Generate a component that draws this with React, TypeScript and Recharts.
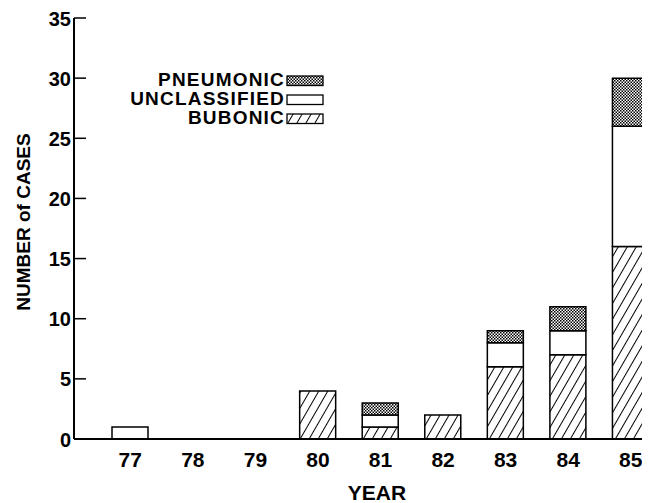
import React from "react";
import { BarChart, Bar, XAxis, YAxis, Legend } from "recharts";

const years = ["77", "78", "79", "80", "81", "82", "83", "84", "85"];
const bubonic = [null, null, null, 4, 1, 2, 6, 7, 16];
const unclassified = [1, null, null, null, 1, null, 2, 2, 10];
const pneumonic = [null, null, null, null, 1, null, 1, 2, 4];
const yTicks = [0, 5, 10, 15, 20, 25, 30, 35];

const legendItems = [
  { label: "PNEUMONIC", fill: "url(#stipple)" },
  { label: "UNCLASSIFIED", fill: "#fff" },
  { label: "BUBONIC", fill: "url(#hatch)" },
];

const data = years.map((year, i) => ({
  year,
  bubonic: bubonic[i],
  unclassified: unclassified[i],
  pneumonic: pneumonic[i],
}));

const FONT = '"Liberation Sans", Arial, Helvetica, sans-serif';

function YTick(props: any) {
  const { x, y, payload } = props;
  return (
    <g>
      <line x1={x + 3} x2={x + 15} y1={y} y2={y} stroke="#000" strokeWidth={1.5} />
      <text x={x} y={y + 7.5} textAnchor="end" fontSize={20} fontWeight="bold" fontFamily={FONT} fill="#000">
        {payload.value}
      </text>
    </g>
  );
}

function XTick(props: any) {
  const { x, y, payload } = props;
  return (
    <text x={x} y={y + 28} textAnchor="middle" fontSize={21} fontWeight="bold" fontFamily={FONT} fill="#000">
      {payload.value}
    </text>
  );
}

function LegendBox() {
  return (
    <svg width={200} height={60} style={{ display: "block", overflow: "visible" }}>
      {legendItems.map((item, i) => {
        const base = 17.5 + i * 19;
        return (
          <g key={item.label}>
            <text
              x={137}
              y={base}
              textAnchor="end"
              fontSize={19}
              fontWeight="bold"
              letterSpacing={1.2}
              fontFamily={FONT}
              fill="#000"
            >
              {item.label}
            </text>
            <rect x={139} y={base - 9.5} width={36} height={9.5} fill={item.fill} stroke="#000" strokeWidth={1.3} />
          </g>
        );
      })}
    </svg>
  );
}

export default function App() {
  return (
    <div style={{ width: 642, height: 495, overflow: "hidden", background: "#fff" }}>
      <BarChart
        width={680}
        height={495}
        data={data}
        margin={{ top: 10, right: 26, bottom: 24, left: 0 }}
        barSize={36}
      >
        <defs>
          <pattern id="hatch" patternUnits="userSpaceOnUse" width={7.8} height={7.8} patternTransform="rotate(30)">
            <rect width={7.8} height={7.8} fill="#fff" />
            <line x1={0} y1={0} x2={0} y2={7.8} stroke="#000" strokeWidth={2} />
          </pattern>
          <pattern id="stipple" patternUnits="userSpaceOnUse" width={3} height={3}>
            <rect width={3} height={3} fill="#fff" />
            <rect x={0} y={0} width={1.5} height={1.5} fill="#000" />
            <rect x={1.5} y={1.5} width={1.5} height={1.5} fill="#000" />
          </pattern>
        </defs>
        <XAxis
          dataKey="year"
          height={40}
          padding={{ left: 25, right: 0 }}
          tickSize={0}
          tickMargin={0}
          tickLine={false}
          axisLine={{ stroke: "#000", strokeWidth: 2 }}
          tick={<XTick />}
          interval={0}
          label={{
            content: (p: any) => {
              const vb = p.viewBox;
              return (
                <text
                  x={vb.x + 303}
                  y={vb.y + vb.height + 21}
                  textAnchor="middle"
                  fontSize={21}
                  fontWeight="bold"
                  fontFamily={FONT}
                  fill="#000"
                >
                  YEAR
                </text>
              );
            },
          }}
        />
        <YAxis
          width={66}
          domain={[0, 35]}
          ticks={yTicks}
          tickSize={0}
          tickMargin={3}
          tickLine={false}
          axisLine={{ stroke: "#000", strokeWidth: 2 }}
          tick={<YTick />}
          interval={0}
          label={{
            content: () => {
              const cx = 15.5;
              const cy = 214;
              return (
                <text
                  x={cx}
                  y={cy}
                  transform={`rotate(-90 ${cx} ${cy})`}
                  textAnchor="middle"
                  dominantBaseline="central"
                  fontSize={19}
                  fontWeight="bold"
                  fontFamily={FONT}
                  fill="#000"
                >
                  NUMBER of CASES
                </text>
              );
            },
          }}
        />
        <Legend
          layout="horizontal"
          verticalAlign="middle"
          align="center"
          content={() => <LegendBox />}
          wrapperStyle={{ position: "absolute", left: 140, top: 60, width: 200, height: 60 }}
        />
        <Bar dataKey="bubonic" stackId="a" fill="url(#hatch)" stroke="#000" strokeWidth={1.5} isAnimationActive={false} />
        <Bar dataKey="unclassified" stackId="a" fill="#fff" stroke="#000" strokeWidth={1.5} isAnimationActive={false} />
        <Bar dataKey="pneumonic" stackId="a" fill="url(#stipple)" stroke="#000" strokeWidth={1.5} isAnimationActive={false} />
      </BarChart>
    </div>
  );
}
